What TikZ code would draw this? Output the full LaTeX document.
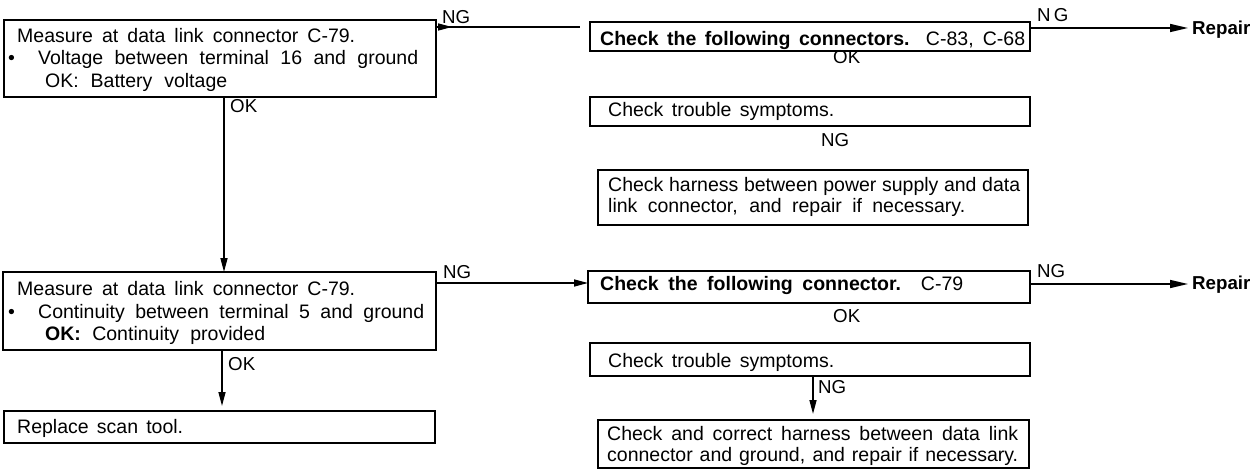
\documentclass[tikz,border=0pt]{standalone}
\usepackage{fontspec}
\usepackage{graphicx}
\setmainfont{Liberation Sans}
\usetikzlibrary{arrows.meta,decorations.markings}
\newcommand\fitline[2]{\sbox0{#2}\ifdim\wd0>#1\relax\scalebox{\fpeval{(#1)/(\the\wd0)}}[1]{\usebox0}\else\makebox[#1][s]{#2}\fi}
\begin{document}
\begin{tikzpicture}[x=1pt,y=-1pt,
  box/.style={draw, line width=1.8pt, rectangle, inner sep=0pt, outer sep=0pt, anchor=north west},
  txt/.style={anchor=base west, inner sep=0pt, font=\fontsize{19.5}{23}\selectfont},
  lbl/.style={anchor=base west, inner sep=0pt, font=\fontsize{18.7}{22}\selectfont},
  bld/.style={anchor=base west, inner sep=0pt, font=\fontsize{18.7}{22}\selectfont\bfseries},
  arr/.style={line width=1.5pt, -{Triangle[length=14pt,width=7pt]}},
  arrR/.style={line width=1.5pt, -{Triangle[length=18pt,width=8pt]}},
  midarr/.style={line width=1.5pt, decoration={markings, mark=at position 16pt with {\arrow{Triangle[length=14pt,width=7pt]}}}, postaction={decorate}}
]
\useasboundingbox (0,0) rectangle (1257,470);

% boxes
\node[box, minimum width=432pt, minimum height=77pt] (A) at (4,20) {};
\node[box, minimum width=440pt, minimum height=29pt] (B) at (590,22) {};
\node[box, minimum width=440pt, minimum height=29pt] (C) at (590,97) {};
\node[box, minimum width=430pt, minimum height=55pt] (I) at (598,170) {};
\node[box, minimum width=433pt, minimum height=78pt] (D) at (3,272) {};
\node[box, minimum width=442pt, minimum height=32pt] (F) at (588,271) {};
\node[box, minimum width=440pt, minimum height=33pt] (G) at (590,343) {};
\node[box, minimum width=431pt, minimum height=32pt] (E) at (4,411) {};
\node[box, minimum width=431pt, minimum height=48pt] (H) at (598,420) {};

% texts
\node[txt] (a1) at (17,43) {\fitline{338pt}{Measure at data link connector C-79.}};
\node[txt] (a2b) at (8,65) {\textbullet};
\node[txt] (a2) at (38,65) {\fitline{380pt}{Voltage between terminal 16 and ground}};
\node[txt] (a3) at (45,88) {\fitline{182pt}{OK: Battery voltage}};

\node[txt] (b1) at (600,46) {\fitline{425pt}{\bfseries Check the following connectors. \mdseries C-83, C-68}};
\node[txt] (c1) at (608,117) {\fitline{226pt}{Check trouble symptoms.}};
\node[txt] (i1) at (608,192) {\fitline{412pt}{Check harness between power supply and data}};
\node[txt] (i2) at (608,213) {\fitline{357pt}{link connector, and repair if necessary.}};

\node[txt] (d1) at (17,295) {\fitline{338pt}{Measure at data link connector C-79.}};
\node[txt] (d2b) at (8,318) {\textbullet};
\node[txt] (d2) at (38,318) {\fitline{386pt}{Continuity between terminal 5 and ground}};
\node[txt] (d3) at (45,340) {\fitline{220pt}{\bfseries OK:\mdseries{} Continuity provided}};

\node[txt] (f1) at (600,290) {\fitline{363pt}{\bfseries Check the following connector. \mdseries C-79}};
\node[txt] (g1) at (608,367) {\fitline{226pt}{Check trouble symptoms.}};
\node[txt] (h1) at (607,440) {\fitline{411pt}{Check and correct harness between data link}};
\node[txt] (h2) at (607,461) {\fitline{411pt}{connector and ground, and repair if necessary.}};
\node[txt] (e1) at (17,433) {\fitline{166pt}{Replace scan tool.}};

% labels
\node[lbl] (ngA) at (442,24) {NG};
\node[lbl] (ngB) at (1037,22) {N\,G};
\node[bld] (rep1) at (1192,35) {Repair};
\node[lbl] (okB) at (833,64) {OK};
\node[lbl] (ngC) at (821,147) {NG};
\node[lbl] (okA) at (230,113) {OK};
\node[lbl] (ngD) at (443,278) {NG};
\node[lbl] (ngF) at (1037,277) {NG};
\node[bld] (rep2) at (1192,289) {Repair};
\node[lbl] (okF) at (833,322) {OK};
\node[lbl] (ngG) at (818,393) {NG};
\node[lbl] (okD) at (228,370) {OK};

% connectors
\coordinate (xa) at (224,0);
\coordinate (xd) at (222,0);
\coordinate (xg) at (813,0);
\coordinate (gA) at (580,27);
\coordinate (yd) at (0,283);
\coordinate (tB) at (1188,28);
\coordinate (tF) at (1188,284);

\draw[arr] (A.south -| xa) -- (D.north -| xa);
\draw[arr, shorten >=5pt] (D.south -| xd) -- (E.north -| xd);
\draw[midarr] (A.east |- gA) -- (gA);
\draw[arr] (D.east |- yd) -- (F.west |- yd);
\draw[arrR] (B.east |- tB) -- (tB);
\draw[arrR] (F.east |- tF) -- (tF);
\draw[arr, shorten >=6pt] (G.south -| xg) -- (H.north -| xg);
\end{tikzpicture}
\end{document}
